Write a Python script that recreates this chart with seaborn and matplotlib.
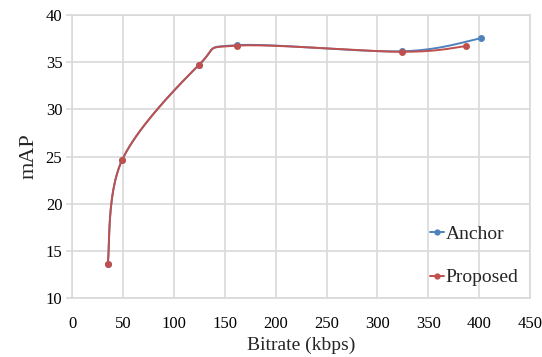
import numpy as np
import pandas as pd
import matplotlib
matplotlib.use("Agg")
import matplotlib.pyplot as plt
import seaborn as sns

# DATA
anchor_rate = [35, 49, 125, 162, 324, 402]
anchor_map = [13.6, 24.6, 34.75, 36.8, 36.15, 37.55]
proposed_rate = [35, 49, 125, 162, 324, 387]
proposed_map = [13.6, 24.6, 34.75, 36.75, 36.1, 36.7]
x_ticks = list(range(0, 451, 50))
y_ticks = list(range(10, 41, 5))

# STYLING
sns.set_theme(style="white")
plt.rcParams['font.family'] = ['Liberation Serif', 'DejaVu Serif']

BLUE = "#4F81BD"
RED = "#C0504D"


def smooth(xs, ys, n=40):
    # excel-like smoothed line (catmull-rom through the points)
    px = np.array(xs, float)
    py = np.array(ys, float)
    px = np.concatenate([[px[0]], px, [px[-1]]])
    py = np.concatenate([[py[0]], py, [py[-1]]])
    out_x, out_y = [], []
    for i in range(1, len(px) - 2):
        t = np.linspace(0, 1, n)
        for arr, out in ((px, out_x), (py, out_y)):
            p0, p1, p2, p3 = arr[i - 1], arr[i], arr[i + 1], arr[i + 2]
            c1 = p1 + (p2 - p0) / 6
            c2 = p2 - (p3 - p1) / 6
            out.extend((1 - t) ** 3 * p1 + 3 * (1 - t) ** 2 * t * c1
                       + 3 * (1 - t) * t ** 2 * c2 + t ** 3 * p2)
    return out_x, out_y


fig, ax = plt.subplots(figsize=(5.42, 3.57), dpi=100)
fig.subplots_adjust(left=0.133, right=0.978, top=0.958, bottom=0.165)

for name, xs, ys, col in (("Anchor", anchor_rate, anchor_map, BLUE),
                          ("Proposed", proposed_rate, proposed_map, RED)):
    sx, sy = smooth(xs, ys)
    curve = pd.DataFrame({"x": sx, "y": sy})
    sns.lineplot(data=curve, x="x", y="y", sort=False, color=col, lw=1.4, ax=ax)
    pts = pd.DataFrame({"x": xs, "y": ys})
    sns.scatterplot(data=pts, x="x", y="y", color=col, s=25, edgecolor=col,
                    linewidth=0, ax=ax, zorder=3)
    ax.plot([], [], color=col, marker="o", ms=3.5, lw=1.4, label=name)

ax.set_xlim(0, 450)
ax.set_ylim(10, 40)
ax.set_xticks(x_ticks)
ax.set_yticks(y_ticks)
ax.grid(True, color="#d9d9d9", lw=1.2)
ax.set_axisbelow(True)
for s in ax.spines.values():
    s.set_color("#d9d9d9")
    s.set_linewidth(1.2)

ax.tick_params(axis="both", labelsize=12, colors="#d9d9d9", labelcolor="black")
ax.tick_params(axis="y", left=True, length=4, width=1.2, pad=3)
ax.tick_params(axis="x", bottom=False, pad=7)
ax.set_xlabel("Bitrate (kbps)", fontsize=14, labelpad=3)
ax.set_ylabel("mAP", fontsize=16, labelpad=5)

ax.legend(loc="lower right", bbox_to_anchor=(1.0, 0.0), frameon=False,
          fontsize=14, handlelength=0.7, handletextpad=0.1, labelspacing=1.35,
          borderaxespad=0.2)

fig.savefig("out.png", dpi=100)
